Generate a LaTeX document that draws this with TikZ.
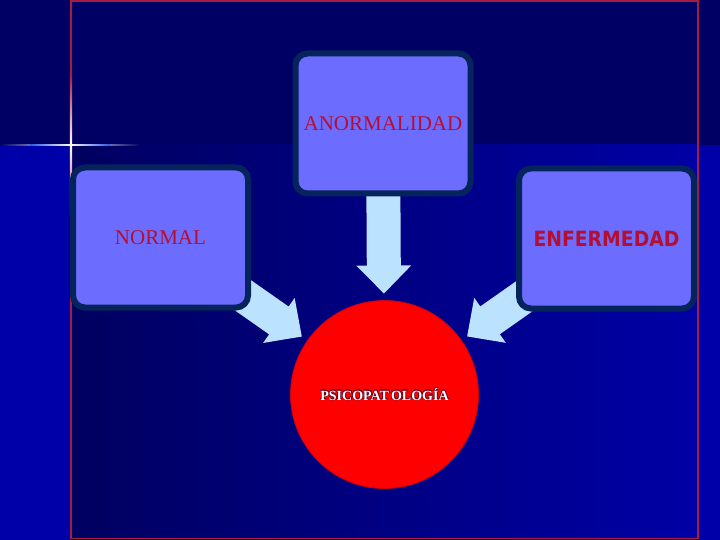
\documentclass[tikz,border=0pt]{standalone}
\usepackage{fontspec}
\setmainfont{Liberation Serif}
\newfontfamily\enffont{DejaVu Sans}[FakeStretch=0.895]
\usepackage{contour}
\contourlength{0.55pt}
\usetikzlibrary{calc}
\definecolor{topnavy}{RGB}{0,0,100}
\definecolor{lowblue}{RGB}{0,0,168}
\definecolor{shadeL}{RGB}{0,0,96}
\definecolor{shadeR}{RGB}{0,0,165}
\definecolor{framered}{RGB}{165,30,65}
\definecolor{boxfill}{RGB}{108,108,255}
\definecolor{boxedge}{RGB}{6,36,92}
\definecolor{txtred}{RGB}{180,15,50}
\definecolor{arrowblue}{RGB}{187,226,255}
\definecolor{circred}{RGB}{255,0,0}
\definecolor{circedge}{RGB}{200,0,20}
\definecolor{contred}{RGB}{110,0,25}
\definecolor{glintblue}{RGB}{40,90,230}
\pgfdeclarelayer{bg}
\pgfdeclarelayer{arr}
\pgfsetlayers{bg,arr,main}
\tikzset{
  box/.style={draw=boxedge, line width=6pt, fill=boxfill, rounded corners=12pt,
    minimum width=175pt, minimum height=140pt, inner sep=0pt, text=txtred,
    font=\fontsize{21}{25}\selectfont},
  blockarrow/.style={fill=arrowblue},
  circnode/.style={circle, fill=circred, draw=circedge, line width=0.8pt,
    minimum size=188pt, inner sep=0pt, text=white,
    font=\bfseries\fontsize{14}{16}\selectfont}
}
% block arrow from node #1 to the circle psi
\newcommand\blkarrow[1]{%
  \path ($(psi.center)!101pt!(#1.center)$) coordinate (#1t)
        ($(#1t)!28pt!(#1.center)$) coordinate (#1h);
  \fill[blockarrow] ($(#1.center)!17pt!90:(#1h)$)
    -- ($(#1h)!17pt!-90:(#1.center)$)
    -- ($(#1h)!27.5pt!-90:(#1.center)$)
    -- (#1t)
    -- ($(#1h)!27.5pt!90:(#1.center)$)
    -- ($(#1h)!17pt!90:(#1.center)$)
    -- ($(#1.center)!17pt!-90:(#1h)$) -- cycle;}
\begin{document}
\begin{tikzpicture}[x=1pt,y=-1pt]
\useasboundingbox (0,0) rectangle (720,540);
\begin{pgfonlayer}{bg}
  \fill[topnavy] (0,0) rectangle (720,145);
  \fill[lowblue] (0,145) rectangle (720,540);
  \shade[left color=shadeL, right color=shadeR] (71,145) rectangle (698,540);
  \draw[framered, line width=1.5pt] (71,1) rectangle (698,538.5);
  \shade[left color=topnavy, right color=topnavy, middle color=white] (0,144.2) rectangle (140,146);
  \shade[left color=glintblue, right color=glintblue, middle color=white] (30,144.4) rectangle (110,145.8);
  \shade[top color=framered, bottom color=framered, middle color=white] (69.8,75) rectangle (72,215);
\end{pgfonlayer}

\node[box] (abn) at (383,123.5) {ANORMALIDAD};
\node[box] (nor) at (160.5,237.5) {NORMAL};
\node[box, font=\enffont\bfseries\fontsize{21}{25}\selectfont] (enf) at (606.5,238.5) {ENFERMEDAD};
\node[circnode] (psi) at (384.5,394.5) {\contour{contred}{PSICOPAT\hspace{2pt}OLOGÍA}};

\begin{pgfonlayer}{arr}
  \blkarrow{abn}
  \blkarrow{nor}
  \blkarrow{enf}
\end{pgfonlayer}
\end{tikzpicture}
\end{document}
